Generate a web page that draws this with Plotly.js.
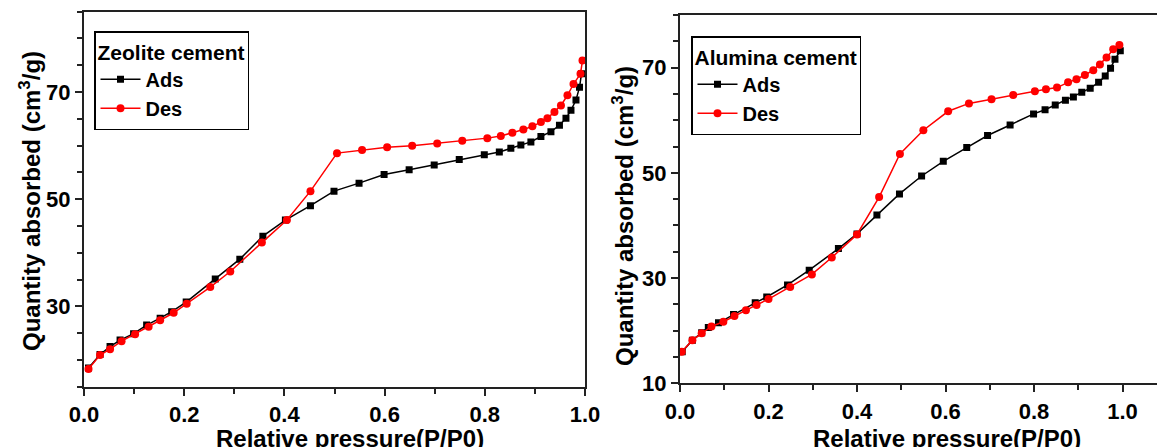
<!DOCTYPE html>
<html>
<head>
<meta charset="utf-8">
<script src="https://cdn.plot.ly/plotly-3.0.1.min.js"></script>
<style>html,body{margin:0;padding:0;background:#fff;}#chart{width:1157px;height:447px;}</style>
</head>
<body>
<div id="chart"></div>
<script>
// Zeolite cement
const zeoAdsP = [0.009,0.032,0.052,0.072,0.099,0.125,0.152,0.175,0.204,0.262,0.311,0.357,0.402,0.452,0.499,0.549,0.599,0.649,0.699,0.749,0.799,0.829,0.852,0.872,0.892,0.912,0.932,0.949,0.962,0.972,0.982,0.989,0.993];
const zeoAdsQ = [18.5,21.0,22.5,23.7,24.9,26.5,27.8,29.0,30.8,35.1,38.8,43.1,46.1,48.8,51.5,53.0,54.6,55.5,56.4,57.4,58.3,58.8,59.5,60.1,60.7,61.7,62.6,63.8,65.1,66.6,68.5,70.9,73.4];
const zeoDesP = [0.995,0.991,0.977,0.965,0.952,0.939,0.925,0.912,0.895,0.877,0.855,0.832,0.805,0.755,0.705,0.655,0.605,0.555,0.505,0.452,0.405,0.355,0.292,0.252,0.205,0.179,0.152,0.129,0.102,0.075,0.052,0.032,0.009];
const zeoDesQ = [75.9,73.4,71.5,69.4,67.5,66.3,65.1,64.4,63.6,63.0,62.4,61.8,61.4,60.9,60.4,60.0,59.7,59.2,58.6,51.5,46.1,41.9,36.5,33.6,30.5,28.8,27.4,26.2,24.8,23.5,22.0,20.9,18.3];

// Alumina cement
const aluAdsP = [0.005,0.028,0.049,0.064,0.087,0.121,0.17,0.196,0.243,0.292,0.358,0.4,0.445,0.496,0.546,0.595,0.648,0.695,0.746,0.799,0.825,0.848,0.871,0.889,0.908,0.927,0.946,0.961,0.973,0.983,0.995];
const aluAdsQ = [16.0,18.2,19.6,20.6,21.5,23.1,25.3,26.4,28.7,31.5,35.6,38.4,42.0,46.0,49.4,52.2,54.8,57.1,59.1,61.2,62.0,62.9,63.8,64.4,65.3,66.1,67.2,68.4,69.9,71.6,73.2];
const aluDesP = [0.993,0.979,0.964,0.949,0.934,0.915,0.896,0.877,0.852,0.827,0.802,0.753,0.704,0.653,0.606,0.55,0.497,0.45,0.4,0.343,0.298,0.249,0.2,0.173,0.149,0.123,0.098,0.071,0.049,0.028,0.004];
const aluDesQ = [74.3,73.5,71.9,70.6,69.5,68.6,67.8,67.2,66.2,65.9,65.5,64.8,64.0,63.2,61.7,58.1,53.6,45.4,38.3,33.9,30.7,28.3,26.0,24.9,23.9,22.8,21.7,20.8,19.5,18.2,16.0];

const seriesNames = ['Ads','Des'];
const panelTitles = ['Zeolite cement','Alumina cement'];
const xTitle = 'Relative pressure(P/P0)';
const yTitle = 'Quantity absorbed (cm<sup>3</sup>/g)';

const FONT = 'Arial, "Liberation Sans", sans-serif';
const W = 1157, H = 447;
const px = v => v / W;
const py = v => (H - v) / H;

function tr(x, y, name, color, symbol, size, xa, ya, leg) {
  return {
    x: x, y: y, name: name, type: 'scatter', mode: 'lines+markers',
    xaxis: xa, yaxis: ya, legend: leg,
    line: {color: color, width: 1.5},
    marker: {color: color, symbol: symbol, size: size}
  };
}

const data = [
  tr(zeoAdsP, zeoAdsQ, seriesNames[0], '#000000', 'square', 7, 'x', 'y', 'legend'),
  tr(zeoDesP, zeoDesQ, seriesNames[1], '#ff0000', 'circle', 8, 'x', 'y', 'legend'),
  tr(aluAdsP, aluAdsQ, seriesNames[0], '#000000', 'square', 7, 'x2', 'y2', 'legend2'),
  tr(aluDesP, aluDesQ, seriesNames[1], '#ff0000', 'circle', 8, 'x2', 'y2', 'legend2')
];

const tickFont = {family: FONT, size: 22, color: '#000', weight: 'bold'};

function xAxis(domain, range, anchor, mirror) {
  return {
    domain: domain, range: range, anchor: anchor,
    tickvals: [0, 0.2, 0.4, 0.6, 0.8, 1.0],
    ticktext: ['0.0','0.2','0.4','0.6','0.8','1.0'],
    ticks: 'outside', ticklen: 7, tickwidth: 2, tickcolor: '#222',
    minor: {dtick: 0.1, tick0: 0, ticks: 'outside', ticklen: 5, tickwidth: 2, tickcolor: '#222'},
    showline: true, linecolor: '#222', linewidth: 2, mirror: mirror,
    showgrid: false, zeroline: false, tickfont: tickFont
  };
}
function yAxis(domain, range, anchor, mirror) {
  return {
    domain: domain, range: range, anchor: anchor,
    tick0: 10, dtick: 20,
    ticks: 'outside', ticklen: 7, tickwidth: 2, tickcolor: '#222',
    minor: {dtick: 5, tick0: 0, ticks: 'outside', ticklen: 5, tickwidth: 2, tickcolor: '#222'},
    showline: true, linecolor: '#222', linewidth: 2, mirror: mirror,
    showgrid: false, zeroline: false, tickfont: tickFont
  };
}

function legend(x, y, title) {
  return {
    x: x, y: y, xanchor: 'left', yanchor: 'top',
    bgcolor: '#ffffff', bordercolor: '#000', borderwidth: 1.5,
    title: {text: '<b>' + title + '</b>', font: {family: FONT, size: 21, color: '#000'}},
    font: {family: FONT, size: 20, color: '#000', weight: 'bold'},
    itemwidth: 40, tracegroupgap: 0, traceorder: 'normal'
  };
}

const layout = {
  width: W, height: H,
  margin: {l: 0, r: 0, t: 0, b: 0},
  paper_bgcolor: '#fff', plot_bgcolor: '#fff',
  showlegend: true,
  xaxis: xAxis([px(84), px(585)], [0, 1.0], 'y', true),
  yaxis: yAxis([py(386.7), py(11.7)], [15, 85], 'x', true),
  xaxis2: xAxis([px(680), 1.0], [0, (W - 680) / 442.5], 'y2', true),
  yaxis2: yAxis([py(383.3), py(15)], [10, 80], 'x2', false),
  legend: legend(px(94), py(31), panelTitles[0]),
  legend2: legend(px(691), py(36), panelTitles[1]),
  annotations: [
    {text: '<b>' + xTitle + '</b>', xref: 'paper', yref: 'paper', x: px(350), y: py(423), xanchor: 'center', yanchor: 'top', showarrow: false, font: {family: FONT, size: 24, color: '#000'}},
    {text: '<b>' + xTitle + '</b>', xref: 'paper', yref: 'paper', x: px(947), y: py(423), xanchor: 'center', yanchor: 'top', showarrow: false, font: {family: FONT, size: 24, color: '#000'}},
    {text: '<b>' + yTitle + '</b>', xref: 'paper', yref: 'paper', x: px(30), y: py(201), xanchor: 'center', yanchor: 'middle', textangle: -90, showarrow: false, font: {family: FONT, size: 24, color: '#000'}},
    {text: '<b>' + yTitle + '</b>', xref: 'paper', yref: 'paper', x: px(623), y: py(216), xanchor: 'center', yanchor: 'middle', textangle: -90, showarrow: false, font: {family: FONT, size: 24, color: '#000'}}
  ]
};

Plotly.newPlot('chart', data, layout, {displayModeBar: false, staticPlot: true});
</script>
</body>
</html>
